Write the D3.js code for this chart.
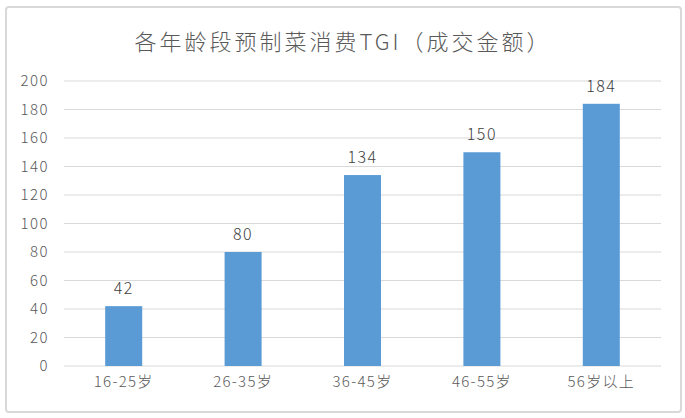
<!DOCTYPE html>
<html><head><meta charset="utf-8">
<script src="https://cdn.jsdelivr.net/npm/d3@7/dist/d3.min.js"></script>
<style>html,body{margin:0;padding:0;background:#fff;}</style>
</head><body>
<script>
const title = "各年龄段预制菜消费TGI（成交金额）";
const categories = ["16-25岁","26-35岁","36-45岁","46-55岁","56岁以上"];
const values = [42, 80, 134, 150, 184];
const yTicks = [0,20,40,60,80,100,120,140,160,180,200];

const W = 685, H = 418;
const svg = d3.select("body").append("svg").attr("width", W).attr("height", H);
const font = "'Noto Sans CJK SC','Noto Sans',sans-serif";

svg.append("rect").attr("x",6).attr("y",7).attr("width",675).attr("height",405)
  .attr("rx",3).attr("fill","#fff").attr("stroke","#d9d9d9").attr("stroke-width",2);

svg.append("text").attr("x",343).attr("y",50).attr("text-anchor","middle")
  .attr("font-family",font).attr("font-size",22).attr("font-weight",300)
  .attr("letter-spacing","3px").attr("fill","#595959").text(title);

const x = d3.scaleBand().domain(categories).range([64,661]).paddingInner(0.69).paddingOuter(0.345);
const y = d3.scaleLinear().domain([0,200]).range([366,81]);

const grid = svg.append("g");
grid.selectAll("line").data(yTicks).join("line")
  .attr("x1",64).attr("x2",661).attr("y1",d=>y(d)).attr("y2",d=>y(d))
  .attr("stroke","#d9d9d9").attr("stroke-width",1);

const yAxis = svg.append("g").attr("transform","translate(64,0)")
  .call(d3.axisLeft(y).tickValues(yTicks).tickSize(0).tickPadding(15));
yAxis.select(".domain").remove();
yAxis.selectAll("text").attr("font-family",font).attr("font-size",15).attr("font-weight",300)
  .attr("letter-spacing","1.5px").attr("fill","#595959");

const xAxis = svg.append("g").attr("transform","translate(0,366)")
  .call(d3.axisBottom(x).tickSize(0).tickPadding(10));
xAxis.select(".domain").remove();
xAxis.selectAll("text").attr("font-family",font).attr("font-size",15).attr("font-weight",300)
  .attr("letter-spacing","1.3px").attr("fill","#595959");

svg.append("g").selectAll("rect").data(values).join("rect")
  .attr("x",(d,i)=>x(categories[i])).attr("width",x.bandwidth())
  .attr("y",d=>y(d)).attr("height",d=>y(0)-y(d)).attr("fill","#5b9bd5");

svg.append("g").selectAll("text").data(values).join("text")
  .attr("x",(d,i)=>x(categories[i])+x.bandwidth()/2).attr("y",d=>y(d)-12)
  .attr("text-anchor","middle").attr("font-family",font).attr("font-size",16).attr("font-weight",300)
  .attr("letter-spacing","1.5px").attr("fill","#404040").text(d=>d);
</script>
</body></html>
